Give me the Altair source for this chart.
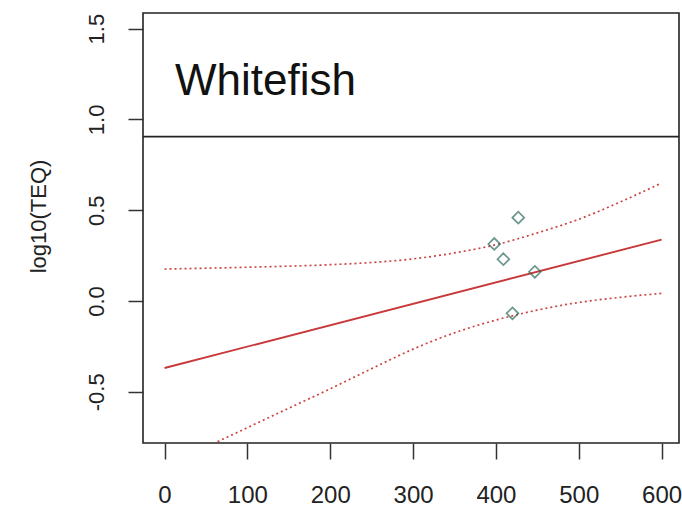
import altair as alt
import pandas as pd

# Observed whitefish samples
fish_x = [398, 409, 427, 420, 447]
log_teq = [0.314, 0.230, 0.459, -0.068, 0.161]

# Fitted regression line
fit_x = [0, 600]
fit_y = [-0.369, 0.338]

# Confidence band limits
upper_x = [0, 100, 200, 250, 300, 350, 400, 450, 500, 550, 600]
upper_y = [0.176, 0.186, 0.200, 0.212, 0.232, 0.265, 0.310, 0.375, 0.450, 0.545, 0.650]
lower_x = [64, 137, 197, 258, 300, 352, 400, 450, 500, 550, 600]
lower_y = [-0.775, -0.618, -0.490, -0.355, -0.265, -0.172, -0.105, -0.050, -0.008, 0.020, 0.042]

# Horizontal reference level
ref_level = 0.905

x_ticks = [0, 100, 200, 300, 400, 500, 600]
y_ticks = [-0.5, 0.0, 0.5, 1.0, 1.5]

points = pd.DataFrame({"x": fish_x, "y": log_teq})
fit = pd.DataFrame({"x": fit_x, "y": fit_y})
upper = pd.DataFrame({"x": upper_x, "y": upper_y})
lower = pd.DataFrame({"x": lower_x, "y": lower_y})
ref = pd.DataFrame({"y": [ref_level]})

font = "Liberation Sans"

x_enc = alt.X(
    "x:Q",
    scale=alt.Scale(domain=[-26, 621], nice=False, zero=False),
    axis=alt.Axis(
        values=x_ticks, title=None, format="d", domain=False, grid=False,
        tickSize=16, tickWidth=1.5, tickColor="#333333",
        labelFontSize=24, labelColor="#222222", labelFont=font,
        labelPadding=24, labelFlush=False,
    ),
)
y_enc = alt.Y(
    "y:Q",
    scale=alt.Scale(domain=[-0.782, 1.586], nice=False, zero=False),
    axis=alt.Axis(
        values=y_ticks, title="log10(TEQ)", grid=False, domain=False,
        labelExpr="datum.value < 0 ? '-' + format(-datum.value, '.1f') : format(datum.value, '.1f')",
        tickSize=15, tickWidth=1.5, tickColor="#333333",
        labelFontSize=22, labelColor="#222222", labelFont=font,
        labelAngle=270, labelAlign="center", labelBaseline="bottom",
        labelPadding=20, labelFlush=False,
        titleFontSize=22, titleFont=font, titleFontWeight="normal",
        titleColor="#222222", titleAngle=270,
        titleX=-105, titleY=203, titleAlign="center", titleBaseline="middle",
    ),
)

band_style = dict(color="#cc4444", strokeWidth=1.7, strokeDash=[2, 3],
                  interpolate="monotone", clip=True)

band_upper = alt.Chart(upper).mark_line(**band_style).encode(x=x_enc, y=y_enc)
band_lower = alt.Chart(lower).mark_line(**band_style).encode(x=x_enc, y=y_enc)

fit_line = alt.Chart(fit).mark_line(
    color="#c8383a", strokeWidth=1.9, clip=True
).encode(x=x_enc, y=y_enc)

ref_rule = alt.Chart(ref).mark_rule(color="#222222", strokeWidth=1.6).encode(
    y=alt.Y("y:Q")
)

pts = alt.Chart(points).mark_point(
    shape="diamond", filled=False, color="#2a6a5a", strokeWidth=1.7, size=140
).encode(x=x_enc, y=y_enc)

label = alt.Chart(pd.DataFrame({"t": ["Whitefish"]})).mark_text(
    font=font, fontSize=44, align="left", baseline="alphabetic", color="#111111"
).encode(x=alt.value(32), y=alt.value(82), text="t:N")

chart = (
    alt.layer(band_upper, band_lower, fit_line, ref_rule, pts, label)
    .properties(
        width=536,
        height=430,
        autosize=alt.AutoSizeParams(type="none"),
        padding={"left": 143, "top": 13, "right": 3, "bottom": 69},
        background="white",
    )
    .configure_view(stroke="#222222", strokeWidth=1.6)
)

chart.save("out.html", embed_options={"renderer": "svg", "actions": False})
